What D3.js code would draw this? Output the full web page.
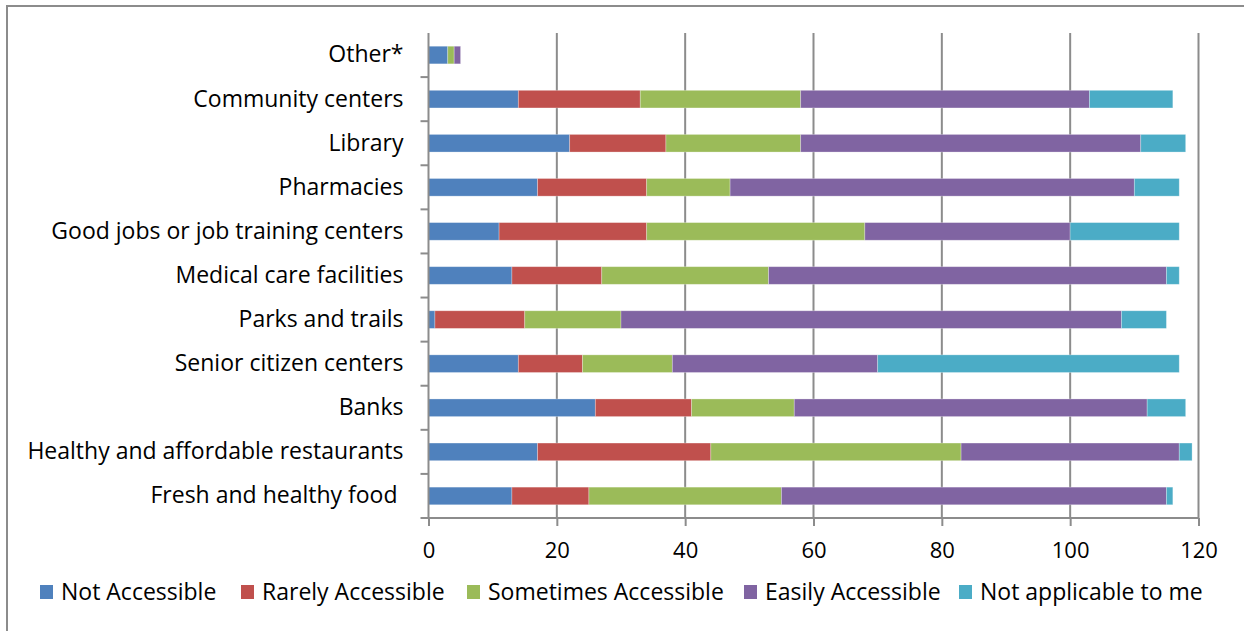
<!DOCTYPE html>
<html>
<head>
<meta charset="utf-8">
<script src="https://cdn.jsdelivr.net/npm/d3@7"></script>
<style>
  html, body { margin: 0; padding: 0; background: #fff; }
  svg text { font-family: "Open Sans", "Liberation Sans", sans-serif; fill: #000; white-space: pre; }
</style>
</head>
<body>
<svg id="chart" width="1244" height="631"></svg>
<script>
const categories = ["Other*", "Community centers", "Library", "Pharmacies",
  "Good jobs or job training centers", "Medical care facilities", "Parks and trails",
  "Senior citizen centers", "Banks", "Healthy and affordable restaurants", "Fresh and healthy food "];
const seriesNames = ["Not Accessible", "Rarely Accessible", "Sometimes Accessible", "Easily Accessible", "Not applicable to me"];
const notAccessible       = [3, 14, 22, 17, 11, 13, 1, 14, 26, 17, 13];
const rarelyAccessible    = [0, 19, 15, 17, 23, 14, 14, 10, 15, 27, 12];
const sometimesAccessible = [1, 25, 21, 13, 34, 26, 15, 14, 16, 39, 30];
const easilyAccessible    = [1, 45, 53, 63, 32, 62, 78, 32, 55, 34, 60];
const notApplicable       = [0, 13, 7, 7, 17, 2, 7, 47, 6, 2, 1];
const xTicks = [0, 20, 40, 60, 80, 100, 120];
const colors = ["#4F81BD", "#C0504D", "#9BBB59", "#8064A2", "#4BACC6"];

const seriesValues = [notAccessible, rarelyAccessible, sometimesAccessible, easilyAccessible, notApplicable];
const rows = categories.map((c, i) => {
  const r = { category: c };
  seriesNames.forEach((s, j) => r[s] = seriesValues[j][i]);
  return r;
});
const stacked = d3.stack().keys(seriesNames)(rows);

const svg = d3.select("#chart");
const gridColor = "#8c8c8c";
const labelSize = 23;

// outer border
svg.append("rect").attr("x", 7).attr("y", 6).attr("width", 1250).attr("height", 640)
  .attr("fill", "none").attr("stroke", gridColor).attr("stroke-width", 2);

const plot = { left: 428.5, right: 1198.5, top: 33, bottom: 518 };
const x = d3.scaleLinear().domain([0, 120]).range([plot.left, plot.right]);
const y = d3.scaleBand().domain(categories).range([plot.top, plot.bottom]).paddingInner(0.6).paddingOuter(0.3);
const yb = d3.scaleBand().domain(categories).range([plot.top, plot.bottom]);

// gridlines
svg.append("g").selectAll("line").data(xTicks.filter(t => t > 0)).join("line")
  .attr("x1", d => x(d)).attr("x2", d => x(d))
  .attr("y1", plot.top).attr("y2", plot.bottom)
  .attr("stroke", gridColor).attr("stroke-width", 2);

// bars
svg.append("g").selectAll("g").data(stacked).join("g")
  .attr("fill", (d, i) => colors[i])
  .selectAll("rect").data(d => d.filter(s => s[1] - s[0] > 0)).join("rect")
  .attr("x", d => x(d[0]))
  .attr("width", d => x(d[1]) - x(d[0]))
  .attr("y", d => y(d.data.category))
  .attr("height", y.bandwidth())
  .attr("stroke", "rgba(255,255,255,0.35)").attr("stroke-width", 0.8);

// x axis
const xAxis = d3.axisBottom(x).tickValues(xTicks).tickSize(8).tickPadding(16).tickFormat(d3.format("d"));
const gx = svg.append("g").attr("transform", `translate(0,${plot.bottom})`).call(xAxis);
gx.select(".domain").attr("stroke", gridColor).attr("stroke-width", 2).attr("d", `M${plot.left - 8},0H${plot.right}`);
gx.selectAll(".tick line").attr("stroke", gridColor).attr("stroke-width", 2);
gx.selectAll(".tick text").attr("font-size", 22).attr("font-family", "Open Sans").attr("fill", "#000");

// y axis
const yAxis = d3.axisLeft(yb).tickSize(0).tickPadding(25);
const gy = svg.append("g").attr("transform", `translate(${plot.left},0)`).call(yAxis);
gy.select(".domain").attr("stroke", gridColor).attr("stroke-width", 2).attr("d", `M0,${plot.top}V${plot.bottom}`);
gy.selectAll(".tick text").attr("font-size", labelSize).attr("font-family", "Open Sans").attr("fill", "#000");
// category boundary ticks
svg.append("g").selectAll("line").data(categories.slice(1)).join("line")
  .attr("x1", plot.left - 8).attr("x2", plot.left)
  .attr("y1", d => yb(d)).attr("y2", d => yb(d))
  .attr("stroke", gridColor).attr("stroke-width", 2);

// legend
const legendTextX = [61, 262, 488, 765, 980];
const lg = svg.append("g").selectAll("g").data(seriesNames).join("g")
  .attr("transform", (d, i) => `translate(${legendTextX[i]},592)`);
lg.append("rect").attr("x", -21).attr("y", -7).attr("width", 13).attr("height", 14)
  .attr("fill", (d, i) => colors[i]);
lg.append("text").attr("x", 0).attr("dy", "0.35em").attr("font-size", labelSize).text(d => d);
</script>
</body>
</html>
